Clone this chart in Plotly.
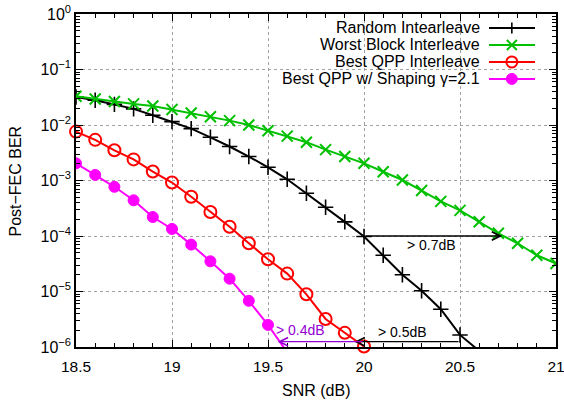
import math
import plotly.graph_objects as go

# ---------------- data ----------------
snr_random = [18.5, 18.6, 18.7, 18.8, 18.9, 19.0, 19.1, 19.2, 19.3, 19.4, 19.5,
              19.6, 19.7, 19.8, 19.9, 20.0, 20.1, 20.2, 20.3, 20.4, 20.5, 20.6]
ber_random = [3.2e-2, 2.8e-2, 2.35e-2, 1.95e-2, 1.5e-2, 1.15e-2, 8.6e-3, 6.0e-3,
              4.1e-3, 2.7e-3, 1.73e-3, 1.05e-3, 5.9e-4, 3.3e-4, 1.8e-4, 9.8e-5,
              4.5e-5, 2.0e-5, 1.03e-5, 4.8e-6, 1.65e-6, 8.5e-7]

snr_block = [18.5, 18.6, 18.7, 18.8, 18.9, 19.0, 19.1, 19.2, 19.3, 19.4, 19.5,
             19.6, 19.7, 19.8, 19.9, 20.0, 20.1, 20.2, 20.3, 20.4, 20.5, 20.6,
             20.7, 20.8, 20.9, 21.0]
ber_block = [3.3e-2, 2.95e-2, 2.65e-2, 2.4e-2, 2.2e-2, 1.9e-2, 1.65e-2, 1.41e-2,
             1.2e-2, 1.0e-2, 7.9e-3, 6.3e-3, 4.9e-3, 3.6e-3, 2.7e-3, 2.04e-3,
             1.44e-3, 1.02e-3, 6.6e-4, 4.2e-4, 2.9e-4, 1.8e-4, 1.12e-4, 7.4e-5,
             4.5e-5, 3.2e-5]

snr_qpp = [18.5, 18.6, 18.7, 18.8, 18.9, 19.0, 19.1, 19.2, 19.3, 19.4, 19.5,
           19.6, 19.7, 19.8, 19.9, 20.0]
ber_qpp = [7.6e-3, 5.4e-3, 3.5e-3, 2.4e-3, 1.45e-3, 9.2e-4, 5.1e-4, 2.7e-4,
           1.47e-4, 7.4e-5, 3.8e-5, 2.1e-5, 8.9e-6, 3.2e-6, 1.8e-6, 1.02e-6]

snr_shaping = [18.5, 18.6, 18.7, 18.8, 18.9, 19.0, 19.1, 19.2, 19.3, 19.4, 19.5, 19.6]
ber_shaping = [2.04e-3, 1.26e-3, 7.7e-4, 4.4e-4, 2.2e-4, 1.34e-4, 7.0e-5, 3.5e-5,
               1.7e-5, 6.8e-6, 2.5e-6, 8.0e-7]

series_names = ["Random Intearleave", "Worst Block Interleave",
                "Best QPP Interleave", "Best QPP w/ Shaping \u03b3=2.1"]

y_tick_vals = [1e-6, 1e-5, 1e-4, 1e-3, 1e-2, 1e-1, 1e0]
y_tick_text = ["10<sup>\u22126</sup>", "10<sup>\u22125</sup>", "10<sup>\u22124</sup>",
               "10<sup>\u22123</sup>", "10<sup>\u22122</sup>", "10<sup>\u22121</sup>",
               "10<sup>0</sup>"]

# gap annotations: (label, snr_from, snr_to, ber_level, label_snr, label_ber, color)
gap_arrows = [
    ("> 0.7dB", 20.0, 20.72, 1e-4, 20.35, 6.9e-5, "black"),
    ("> 0.5dB", 20.5, 19.95, 1.245e-6, 20.2, 1.9e-6, "black"),
    ("> 0.4dB", 20.0, 19.55, 1.245e-6, 19.67, 2.0e-6, "#9400d3"),
]

# ---------------- figure ----------------
FONT = "Liberation Sans, Arial, sans-serif"
colors = ["#000000", "#00c000", "#ff0000", "#ff00ff"]
symbols = ["cross-thin-open", "x-thin-open", "circle-open", "circle"]
sizes = [11, 11, 12, 11]
mlw = [1.6, 2, 2, 1]

fig = go.Figure()
datasets = [(snr_random, ber_random), (snr_block, ber_block),
            (snr_qpp, ber_qpp), (snr_shaping, ber_shaping)]
for i, (xs, ys) in enumerate(datasets):
    fig.add_trace(go.Scatter(
        x=xs, y=ys, mode="lines+markers", name=series_names[i],
        line=dict(color=colors[i], width=2),
        marker=dict(symbol=symbols[i], size=sizes[i], color=colors[i],
                    line=dict(color=colors[i], width=mlw[i])),
        cliponaxis=(i != 2), showlegend=False))

# ---- custom legend (text right-aligned, sample on its right), white box ----
fig.add_shape(type="rect", xref="paper", yref="paper", x0=0.3875, x1=0.977,
              y0=0.778, y1=1.0, fillcolor="white", line=dict(width=0),
              layer="between")
leg_y = [0.958, 0.907, 0.856, 0.805]
LX0, LXM, LX1 = 0.8604, 0.908, 0.9563
for i in range(4):
    c = colors[i]
    fig.add_shape(type="line", xref="paper", yref="paper", x0=LX0, x1=LX1,
                  y0=leg_y[i], y1=leg_y[i], line=dict(color=c, width=2))
    px = dict(xref="paper", yref="paper", xsizemode="pixel", ysizemode="pixel",
              xanchor=LXM, yanchor=leg_y[i])
    if i == 0:
        fig.add_shape(type="line", x0=0, x1=0, y0=-5.5, y1=5.5,
                      line=dict(color=c, width=1.6), **px)
    elif i == 1:
        fig.add_shape(type="line", x0=-5, x1=5, y0=-5, y1=5,
                      line=dict(color=c, width=2), **px)
        fig.add_shape(type="line", x0=-5, x1=5, y0=5, y1=-5,
                      line=dict(color=c, width=2), **px)
    elif i == 2:
        fig.add_shape(type="circle", x0=-5.5, x1=5.5, y0=-5.5, y1=5.5,
                      line=dict(color=c, width=2), **px)
    else:
        fig.add_shape(type="circle", x0=-5.5, x1=5.5, y0=-5.5, y1=5.5,
                      line=dict(color=c, width=1), fillcolor=c, **px)
    fig.add_annotation(x=0.846, y=leg_y[i], xref="paper", yref="paper",
                       text=series_names[i], showarrow=False, xanchor="right",
                       yanchor="middle", font=dict(family=FONT, size=16, color="black"))

for label, x0, x1, lvl, lx, ly, col in gap_arrows:
    fig.add_annotation(x=x1, y=math.log10(lvl), ax=x0, ay=math.log10(lvl),
                       xref="x", yref="y", axref="x", ayref="y", text="",
                       showarrow=True, arrowhead=5, arrowsize=1.3, arrowwidth=1.3,
                       arrowcolor=col, standoff=0, startstandoff=0)
    fig.add_annotation(x=lx, y=math.log10(ly), xref="x", yref="y", text=label,
                       showarrow=False, font=dict(family=FONT, size=14, color=col))

# axis titles
fig.add_annotation(x=0.5, y=-0.132, xref="paper", yref="paper", text="SNR (dB)",
                   showarrow=False, xanchor="center", yanchor="middle",
                   font=dict(family=FONT, size=16, color="black"))
fig.add_annotation(x=-0.127, y=0.497, xref="paper", yref="paper",
                   text="Post\u2212FEC BER", textangle=-90, showarrow=False,
                   xanchor="center", yanchor="middle",
                   font=dict(family=FONT, size=16, color="black"))

fig.update_layout(
    width=564, height=400,
    margin=dict(l=76, r=8, t=14, b=53, autoexpand=False),
    paper_bgcolor="white", plot_bgcolor="white",
    font=dict(family=FONT, size=16, color="black"),
    xaxis=dict(range=[18.5, 21], dtick=0.5, tick0=18.5, ticks="inside", ticklen=7,
               tickcolor="black", showline=True, linecolor="black", linewidth=1.5,
               mirror="allticks", showgrid=True, gridcolor="#a0a0a0", griddash="dot",
               gridwidth=1, zeroline=False, automargin=False,
               ticklabelstandoff=5, ticklabeloverflow="allow",
               minor=dict(dtick=0.1, ticks="inside", ticklen=4, tickcolor="black",
                          showgrid=False),
               tickfont=dict(family=FONT, size=15.5)),
    yaxis=dict(type="log", range=[-6, 0], tickmode="array", tickvals=y_tick_vals,
               ticktext=y_tick_text, ticks="inside", ticklen=7, tickcolor="black",
               showline=True, linecolor="black", linewidth=1.5, mirror="allticks",
               showgrid=True, gridcolor="#a0a0a0", griddash="dot", gridwidth=1,
               zeroline=False, automargin=False,
               minor=dict(dtick="D1", ticks="inside", ticklen=4, tickcolor="black",
                          showgrid=False),
               tickfont=dict(family=FONT, size=16)),
)

fig.write_html("out.html", config={"displayModeBar": False},
               post_script="document.body.style.margin='0';"
                           "document.body.style.overflow='hidden';")
